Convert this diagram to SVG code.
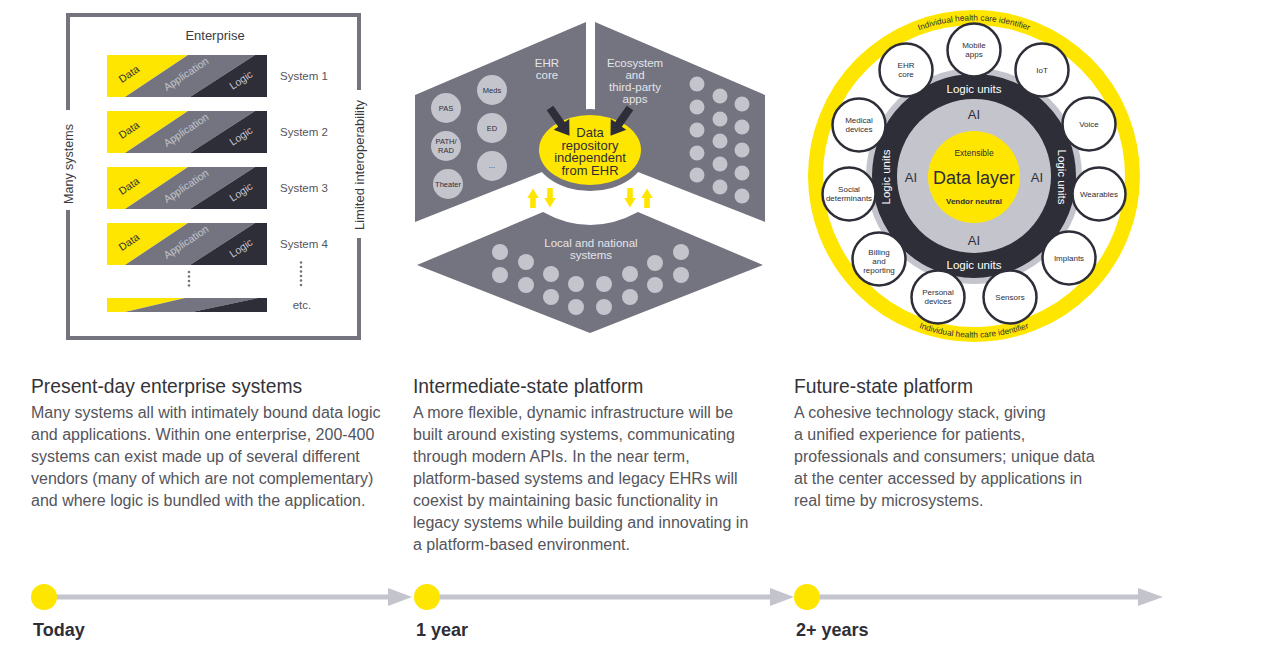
<svg xmlns="http://www.w3.org/2000/svg" width="1282" height="671" viewBox="0 0 1282 671">
<defs>
<style>
text{font-family:"Liberation Sans",Arial,sans-serif}
.frame{stroke:#74747f;stroke-width:4;fill:none}
.ylw{fill:#FFE600}
.mid{fill:#747480}
.drk{fill:#2E2E38}
.lgt{fill:#C4C4CD}
.sys{font-size:11.5px;fill:#55555c}
.bl{font-size:10.5px}
.face{fill:#747480}
.ftxt{font-size:11.5px;fill:#e4e4ea;text-anchor:middle}
.ctxt{font-size:7.5px;fill:#2E2E38;text-anchor:middle}
.ntxt{font-size:8px;fill:#2E2E38;text-anchor:middle}
.node{fill:#ffffff;stroke:#2E2E38;stroke-width:2.5}
.lu{font-size:11.5px;fill:#ffffff;text-anchor:middle}
.ai{font-size:13px;fill:#2E2E38;text-anchor:middle}
.h{font-size:19.3px;fill:#333339}
.b{font-size:16px;fill:#55555c}
.tl{font-size:18px;font-weight:bold;fill:#2E2E38}
.tline{stroke:#C4C4CD;stroke-width:5}
.tarrow{fill:#C4C4CD}
.dot{fill:#FFE600}
.sd{fill:#74747f}
.rep{font-size:13px;fill:#2E2E38;text-anchor:middle}
.ring{font-size:8.3px;fill:#2E2E38;text-anchor:middle}
</style>
<g id="bar">
<polygon class="ylw" points="0,0 81,0 18,42 0,42"/>
<polygon class="mid" points="81,0 148,0 83,42 18,42"/>
<polygon class="drk" points="148,0 160,0 160,42 83,42"/>
<text class="bl" fill="#2E2E38" transform="translate(24,22) rotate(-33.7)" text-anchor="middle">Data</text>
<text class="bl" fill="#C4C4CD" transform="translate(81,22) rotate(-33.7)" text-anchor="middle">Application</text>
<text class="bl" fill="#C4C4CD" transform="translate(136,28) rotate(-33.7)" text-anchor="middle">Logic</text>
</g>
<path id="ringTop" d="M 818.5 176 A 155.5 155.5 0 0 1 1129.5 176"/>
<path id="ringBot" d="M 812.5 176 A 161.5 161.5 0 0 0 1135.5 176"/>
<polygon id="bigArrow" points="0,-4 20,-4 20,-9.5 34,0 20,9.5 20,4 0,4"/>
<polygon id="smallUp" points="-2.8,10 -2.8,0 -5.8,0 0,-9.5 5.8,0 2.8,0 2.8,10"/>
</defs>
<rect width="1282" height="671" fill="#ffffff"/>

<g id="panel-present">
<path class="frame" d="M68 110 V15 H359 V90 M359 238 V338 H68 V210"/>
<text x="215" y="40" font-size="13" fill="#3a3a42" text-anchor="middle">Enterprise</text>
<text transform="translate(72.5,164) rotate(-90)" font-size="12.5" fill="#3a3a42" text-anchor="middle">Many systems</text>
<text transform="translate(363.5,165) rotate(-90)" font-size="13" fill="#3a3a42" text-anchor="middle">Limited interoperability</text>
<g id="system1"><use href="#bar" x="107" y="55"/><text class="sys" x="280" y="80">System 1</text></g>
<g id="system2"><use href="#bar" x="107" y="111"/><text class="sys" x="280" y="136">System 2</text></g>
<g id="system3"><use href="#bar" x="107" y="167"/><text class="sys" x="280" y="192">System 3</text></g>
<g id="system4"><use href="#bar" x="107" y="223"/><text class="sys" x="280" y="248">System 4</text></g>
<g id="system-etc">
<polygon class="ylw" points="107,298 185,298 125,312 107,312"/>
<polygon class="mid" points="185,298 258,298 192,312 125,312"/>
<polygon class="drk" points="258,298 267,298 267,312 192,312"/>
<text class="sys" x="302" y="309" text-anchor="middle">etc.</text>
<circle class="sd" cx="189" cy="272" r="1.3"/><circle class="sd" cx="189" cy="276.5" r="1.3"/><circle class="sd" cx="189" cy="281" r="1.3"/><circle class="sd" cx="189" cy="285.5" r="1.3"/>
<circle class="sd" cx="301" cy="262.5" r="1.3"/><circle class="sd" cx="301" cy="267" r="1.3"/><circle class="sd" cx="301" cy="271.5" r="1.3"/><circle class="sd" cx="301" cy="276" r="1.3"/><circle class="sd" cx="301" cy="280.5" r="1.3"/><circle class="sd" cx="301" cy="285" r="1.3"/>
</g>
</g>

<g id="panel-intermediate">
<g id="ehr-core-face">
<polygon class="face" points="415,95 586,22 586,130 542,172 415,222"/>
<text class="ftxt" x="547" y="67">EHR</text>
<text class="ftxt" x="547" y="79">core</text>
<circle class="lgt" cx="446" cy="108" r="15"/><text class="ctxt" x="446" y="111">PAS</text>
<circle class="lgt" cx="446" cy="146" r="15"/><text class="ctxt" x="446" y="144">PATH/</text><text class="ctxt" x="446" y="153">RAD</text>
<circle class="lgt" cx="448" cy="184" r="15"/><text class="ctxt" x="448" y="187">Theater</text>
<circle class="lgt" cx="492" cy="90" r="15"/><text class="ctxt" x="492" y="93">Meds</text>
<circle class="lgt" cx="492" cy="128" r="15"/><text class="ctxt" x="492" y="131">ED</text>
<circle class="lgt" cx="492" cy="166" r="15"/><text class="ctxt" x="492" y="168">...</text>
</g>
<g id="ecosystem-face">
<polygon class="face" points="595,22 765,95 765,222 638,172 595,130"/>
<text class="ftxt" x="635" y="67">Ecosystem</text>
<text class="ftxt" x="635" y="79">and</text>
<text class="ftxt" x="635" y="91">third-party</text>
<text class="ftxt" x="635" y="103">apps</text>
<g class="lgt">
<circle cx="697" cy="84" r="7.5"/><circle cx="697" cy="107" r="7.5"/><circle cx="697" cy="130" r="7.5"/><circle cx="697" cy="153" r="7.5"/><circle cx="697" cy="175" r="7.5"/>
<circle cx="720" cy="96" r="7.5"/><circle cx="720" cy="119" r="7.5"/><circle cx="720" cy="141" r="7.5"/><circle cx="720" cy="164" r="7.5"/><circle cx="720" cy="187" r="7.5"/>
<circle cx="742" cy="104" r="7.5"/><circle cx="742" cy="127" r="7.5"/><circle cx="742" cy="150" r="7.5"/><circle cx="742" cy="173" r="7.5"/><circle cx="742" cy="196" r="7.5"/>
</g>
</g>
<g id="local-national-face">
<path class="face" d="M417 265 L543 212 Q590 238 638 212 L763 265 L590 333 Z"/>
<text class="ftxt" x="591" y="247">Local and national</text>
<text class="ftxt" x="591" y="259">systems</text>
<g class="lgt">
<circle cx="500" cy="252" r="8"/><circle cx="500" cy="275" r="8"/>
<circle cx="526" cy="262" r="8"/><circle cx="526" cy="285" r="8"/>
<circle cx="551" cy="274" r="8"/><circle cx="551" cy="297" r="8"/>
<circle cx="576" cy="284" r="8"/><circle cx="576" cy="307" r="8"/>
<circle cx="604" cy="284" r="8"/><circle cx="604" cy="307" r="8"/>
<circle cx="630" cy="274" r="8"/><circle cx="630" cy="297" r="8"/>
<circle cx="655" cy="263" r="8"/><circle cx="655" cy="285" r="8"/>
<circle cx="681" cy="252" r="8"/><circle cx="681" cy="275" r="8"/>
</g>
</g>
<g id="data-repository">
<ellipse class="face" cx="590" cy="150" rx="57" ry="41"/>
<ellipse class="ylw" cx="590" cy="150" rx="51" ry="35"/>
<text class="rep" x="590" y="137">Data</text>
<text class="rep" x="590" y="149.5">repository</text>
<text class="rep" x="590" y="162">independent</text>
<text class="rep" x="590" y="174.5">from EHR</text>
</g>
</g>

<g id="connectors">
<use href="#bigArrow" class="drk" transform="translate(550,108) rotate(55)"/>
<use href="#bigArrow" class="drk" transform="translate(630,108) rotate(125)"/>
<use href="#smallUp" class="ylw" transform="translate(533,198)"/>
<use href="#smallUp" class="ylw" transform="translate(550,198) rotate(180)"/>
<use href="#smallUp" class="ylw" transform="translate(630,198) rotate(180)"/>
<use href="#smallUp" class="ylw" transform="translate(647,198)"/>
</g>

<g id="panel-future">
<circle cx="974" cy="176" r="158.5" fill="none" stroke="#FFE600" stroke-width="15"/>
<text class="ring"><textPath href="#ringTop" startOffset="50%">Individual health care identifier</textPath></text>
<text class="ring"><textPath href="#ringBot" startOffset="50%">Individual health care identifier</textPath></text>
<circle class="lgt" cx="974" cy="176" r="108"/>
<circle cx="974" cy="176" r="89.5" fill="none" stroke="#2E2E38" stroke-width="25"/>
<circle class="ylw" cx="974" cy="177" r="46"/>
<text class="lu" x="974" y="93">Logic units</text>
<text class="lu" x="974" y="269">Logic units</text>
<text class="lu" transform="translate(890,177) rotate(-90)">Logic units</text>
<text class="lu" transform="translate(1058,177) rotate(90)">Logic units</text>
<text class="ai" x="974" y="119">AI</text>
<text class="ai" x="974" y="245">AI</text>
<text class="ai" x="911" y="182">AI</text>
<text class="ai" x="1037" y="182">AI</text>
<text x="974" y="156" font-size="8.5" fill="#2E2E38" text-anchor="middle">Extensible</text>
<text x="974" y="183.5" font-size="18" fill="#2E2E38" text-anchor="middle">Data layer</text>
<text x="974" y="204" font-size="8" font-weight="bold" fill="#2E2E38" text-anchor="middle">Vendor neutral</text>
<g id="n-mobile"><circle class="node" cx="974" cy="50" r="26.5"/><text class="ntxt" x="974" y="48">Mobile</text><text class="ntxt" x="974" y="57">apps</text></g>
<g id="n-iot"><circle class="node" cx="1042" cy="70" r="26.5"/><text class="ntxt" x="1042" y="73">IoT</text></g>
<g id="n-voice"><circle class="node" cx="1089" cy="124" r="26.5"/><text class="ntxt" x="1089" y="127">Voice</text></g>
<g id="n-wearables"><circle class="node" cx="1099" cy="194" r="26.5"/><text class="ntxt" x="1099" y="197">Wearables</text></g>
<g id="n-implants"><circle class="node" cx="1069" cy="258" r="26.5"/><text class="ntxt" x="1069" y="261">Implants</text></g>
<g id="n-sensors"><circle class="node" cx="1010" cy="297" r="26.5"/><text class="ntxt" x="1010" y="300">Sensors</text></g>
<g id="n-personal"><circle class="node" cx="938" cy="297" r="26.5"/><text class="ntxt" x="938" y="295">Personal</text><text class="ntxt" x="938" y="304">devices</text></g>
<g id="n-billing"><circle class="node" cx="879" cy="259" r="26.5"/><text class="ntxt" x="879" y="255">Billing</text><text class="ntxt" x="879" y="264">and</text><text class="ntxt" x="879" y="272.5">reporting</text></g>
<g id="n-social"><circle class="node" cx="849" cy="194" r="26.5"/><text class="ntxt" x="849" y="192">Social</text><text class="ntxt" x="849" y="201">determinants</text></g>
<g id="n-medical"><circle class="node" cx="859" cy="125" r="26.5"/><text class="ntxt" x="859" y="123">Medical</text><text class="ntxt" x="859" y="132">devices</text></g>
<g id="n-ehr"><circle class="node" cx="906" cy="70" r="26.5"/><text class="ntxt" x="906" y="68">EHR</text><text class="ntxt" x="906" y="77">core</text></g>
</g>

<g id="desc-present">
<text class="h" x="31" y="393">Present-day enterprise systems</text>
<text class="b" x="31" y="418">Many systems all with intimately bound data logic</text>
<text class="b" x="31" y="440">and applications. Within one enterprise, 200-400</text>
<text class="b" x="31" y="462">systems can exist made up of several different</text>
<text class="b" x="31" y="484">vendors (many of which are not complementary)</text>
<text class="b" x="31" y="506">and where logic is bundled with the application.</text>
</g>
<g id="desc-intermediate">
<text class="h" x="413" y="393">Intermediate-state platform</text>
<text class="b" x="413" y="418">A more flexible, dynamic infrastructure will be</text>
<text class="b" x="413" y="440">built around existing systems, communicating</text>
<text class="b" x="413" y="462">through modern APIs. In the near term,</text>
<text class="b" x="413" y="484">platform-based systems and legacy EHRs will</text>
<text class="b" x="413" y="506">coexist by maintaining basic functionality in</text>
<text class="b" x="413" y="528">legacy systems while building and innovating in</text>
<text class="b" x="413" y="550">a platform-based environment.</text>
</g>
<g id="desc-future">
<text class="h" x="794" y="393">Future-state platform</text>
<text class="b" x="794" y="418">A cohesive technology stack, giving</text>
<text class="b" x="794" y="440">a unified experience for patients,</text>
<text class="b" x="794" y="462">professionals and consumers; unique data</text>
<text class="b" x="794" y="484">at the center accessed by applications in</text>
<text class="b" x="794" y="506">real time by microsystems.</text>
</g>

<g id="timeline">
<line class="tline" x1="44" y1="597" x2="392" y2="597"/>
<polygon class="tarrow" points="388,588 412,597 388,606"/>
<line class="tline" x1="427" y1="597" x2="774" y2="597"/>
<polygon class="tarrow" points="770,588 794,597 770,606"/>
<line class="tline" x1="807" y1="597" x2="1142" y2="597"/>
<polygon class="tarrow" points="1138,588 1163,597 1138,606"/>
<circle class="dot" cx="44" cy="597" r="13"/>
<circle class="dot" cx="427" cy="597" r="13"/>
<circle class="dot" cx="807" cy="597" r="13"/>
<text class="tl" x="33" y="636">Today</text>
<text class="tl" x="416" y="636">1 year</text>
<text class="tl" x="796" y="636">2+ years</text>
</g>
</svg>
